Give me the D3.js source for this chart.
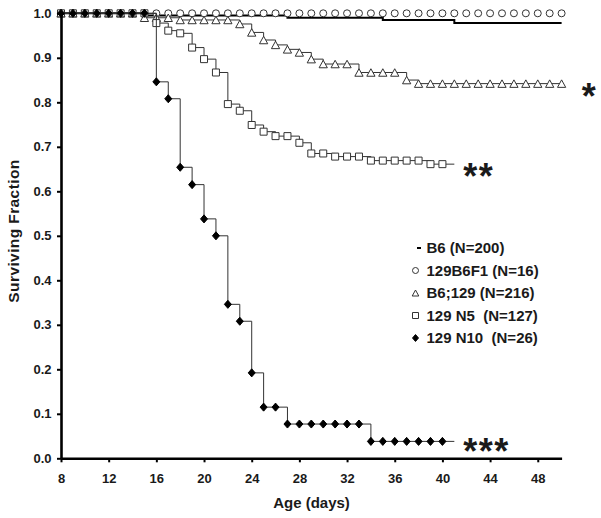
<!DOCTYPE html>
<html>
<head>
<meta charset="utf-8">
<script src="https://cdn.jsdelivr.net/npm/d3@7"></script>
<style>
  html, body { margin: 0; padding: 0; background: #fff; }
  svg { display: block; }
  text { font-family: "Liberation Sans", Arial, sans-serif; font-weight: bold; fill: #1a1a1a; }
</style>
</head>
<body>
<svg id="chart" width="601" height="518"></svg>
<script>
// ---------------- DATA ----------------
const xTicks = [8, 12, 16, 20, 24, 28, 32, 36, 40, 44, 48];
const yTicks = [0.0, 0.1, 0.2, 0.3, 0.4, 0.5, 0.6, 0.7, 0.8, 0.9, 1.0];

// B6 (N=200): step line only (change days and values)
const b6Days   = [8, 15, 27, 35, 41, 50];
const b6Values = [1.0, 0.995, 0.99, 0.985, 0.978, 0.978];

// 129B6F1 (N=16): circles, days 8..50
const f1Days = [8,9,10,11,12,13,14,15,16,17,18,19,20,21,22,23,24,25,26,27,28,29,30,31,32,33,34,35,36,37,38,39,40,41,42,43,44,45,46,47,48,49,50];
const f1Values = [1,1,1,1,1,1,1,1,1,1,1,1,1,1,1,1,1,1,1,1,1,1,1,1,1,1,1,1,1,1,1,1,1,1,1,1,1,1,1,1,1,1,1];

// B6;129 (N=216): triangles, days 8..50
const b6129Days = [8,9,10,11,12,13,14,15,16,17,18,19,20,21,22,23,24,25,26,27,28,29,30,31,32,33,34,35,36,37,38,39,40,41,42,43,44,45,46,47,48,49,50];
const b6129Values = [1,1,1,1,1,1,1,0.99,0.99,0.99,0.985,0.985,0.985,0.985,0.985,0.976,0.957,0.94,0.929,0.919,0.912,0.897,0.886,0.886,0.886,0.867,0.867,0.867,0.867,0.85,0.842,0.842,0.842,0.842,0.842,0.842,0.842,0.842,0.842,0.842,0.842,0.842,0.842];

// 129 N5 (N=127): squares, days 8..40
const n5Days = [8,9,10,11,12,13,14,15,16,17,18,19,20,21,22,23,24,25,26,27,28,29,30,31,32,33,34,35,36,37,38,39,40];
const n5Values = [1,1,1,1,1,1,1,1,0.978,0.961,0.955,0.923,0.897,0.867,0.796,0.781,0.749,0.734,0.724,0.724,0.709,0.685,0.685,0.678,0.678,0.678,0.669,0.669,0.669,0.669,0.669,0.661,0.661];

// 129 N10 (N=26): filled diamonds, days 8..40
const n10Days = [8,9,10,11,12,13,14,15,16,17,18,19,20,21,22,23,24,25,26,27,28,29,30,31,32,33,34,35,36,37,38,39,40];
const n10Values = [1,1,1,1,1,1,1,1,0.846,0.808,0.654,0.615,0.538,0.5,0.346,0.308,0.192,0.115,0.115,0.077,0.077,0.077,0.077,0.077,0.077,0.077,0.038,0.038,0.038,0.038,0.038,0.038,0.038];

const lineEndDay = { b6129: 50, n5: 41, n10: 41 };

const legendLabels = ["B6 (N=200)", "129B6F1 (N=16)", "B6;129 (N=216)", "129 N5\u00a0\u00a0(N=127)", "129 N10\u00a0\u00a0(N=26)"];
const legendKinds  = ["dash", "circle", "triangle", "square", "diamond"];

const starLabels = ["*", "**", "***"];
const starDays   = [51.7, 41.75, 41.75];
const starValues = [0.832, 0.652, 0.034];

// ---------------- CHART ----------------
const svg = d3.select("#chart");
const x = d3.scaleLinear().domain([8, 50]).range([61, 561.6]);
const y = d3.scaleLinear().domain([0, 1]).range([458.3, 13.3]);

function pts(days, vals) { return days.map((d, i) => ({ d, v: vals[i] })); }
function withEnd(days, vals, end) {
  const p = pts(days, vals);
  if (end > days[days.length - 1]) p.push({ d: end, v: vals[vals.length - 1] });
  return p;
}
const stepLine = d3.line().x(p => x(p.d)).y(p => y(p.v)).curve(d3.curveStepAfter);

// marker paths (centered on bounding box)
function markerPath(kind, s) {
  const h = s / 2;
  switch (kind) {
    case "circle": return `M${h},0A${h},${h} 0 1,1 ${-h},0A${h},${h} 0 1,1 ${h},0Z`;
    case "triangle": return `M0,${-h}L${h * 1.1},${h}L${-h * 1.1},${h}Z`;
    case "square": return `M${-h},${-h}H${h}V${h}H${-h}Z`;
    case "diamond": return `M0,${-h * 1.15}L${h},0L0,${h * 1.15}L${-h},0Z`;
  }
}
const markerStyle = {
  circle:   { size: 7,   fill: "#fff", stroke: "#333" },
  triangle: { size: 7.5, fill: "#fff", stroke: "#333" },
  square:   { size: 7,   fill: "#fff", stroke: "#333" },
  diamond:  { size: 7,   fill: "#000", stroke: "#000" }
};

function drawMarkers(g, data, kind) {
  const st = markerStyle[kind];
  g.selectAll(null).data(data).join("path")
    .attr("transform", p => `translate(${x(p.d)},${y(p.v)})`)
    .attr("d", markerPath(kind, st.size))
    .attr("fill", st.fill).attr("stroke", st.stroke).attr("stroke-width", 1);
}

const plot = svg.append("g");

// B6 line
plot.append("path").datum(pts(b6Days, b6Values))
  .attr("d", stepLine).attr("fill", "none").attr("stroke", "#000").attr("stroke-width", 2);

// circles
drawMarkers(plot.append("g"), pts(f1Days, f1Values), "circle");

// triangles
plot.append("path").datum(withEnd(b6129Days, b6129Values, lineEndDay.b6129))
  .attr("d", stepLine).attr("fill", "none").attr("stroke", "#333").attr("stroke-width", 1);
drawMarkers(plot.append("g"), pts(b6129Days, b6129Values), "triangle");

// squares
plot.append("path").datum(withEnd(n5Days, n5Values, lineEndDay.n5))
  .attr("d", stepLine).attr("fill", "none").attr("stroke", "#333").attr("stroke-width", 1);
drawMarkers(plot.append("g"), pts(n5Days, n5Values), "square");

// diamonds
plot.append("path").datum(withEnd(n10Days, n10Values, lineEndDay.n10))
  .attr("d", stepLine).attr("fill", "none").attr("stroke", "#333").attr("stroke-width", 1);
drawMarkers(plot.append("g"), pts(n10Days, n10Values), "diamond");

// ---------------- AXES ----------------
const xAxis = svg.append("g").attr("transform", `translate(0,${y(0)})`)
  .call(d3.axisBottom(x).tickValues(xTicks).tickFormat(d3.format("d")).tickSize(4).tickSizeOuter(0).tickPadding(11));
const yAxis = svg.append("g").attr("transform", `translate(${x(8)},0)`)
  .call(d3.axisLeft(y).tickValues(yTicks).tickFormat(d3.format(".1f")).tickSize(4).tickSizeOuter(0).tickPadding(5.5));
[xAxis, yAxis].forEach(a => {
  a.select(".domain").attr("stroke", "#000").attr("stroke-width", 2.6);
  a.selectAll(".tick line").attr("stroke", "#000").attr("stroke-width", 2);
  a.selectAll(".tick text").attr("font-size", 13).attr("font-family", "Liberation Sans, Arial, sans-serif").attr("font-weight", "bold").attr("fill", "#1a1a1a");
});

svg.append("text").attr("x", 311.5).attr("y", 508).attr("text-anchor", "middle")
  .attr("font-size", 15).text("Age (days)");
svg.append("text").attr("transform", "translate(19,231) rotate(-90)").attr("text-anchor", "middle")
  .attr("font-size", 15.5).attr("letter-spacing", 0.4).text("Surviving Fraction");

// ---------------- LEGEND ----------------
const legend = svg.append("g");
legendLabels.forEach((lab, i) => {
  const cy = 248 + i * 22.5;
  const kind = legendKinds[i];
  if (kind === "dash") {
    legend.append("line").attr("x1", 417).attr("x2", 421).attr("y1", cy).attr("y2", cy)
      .attr("stroke", "#000").attr("stroke-width", 2);
  } else {
    const st = markerStyle[kind];
    legend.append("path").attr("transform", `translate(415.5,${cy})`)
      .attr("d", markerPath(kind, 6)).attr("fill", st.fill).attr("stroke", st.stroke).attr("stroke-width", 1);
  }
  legend.append("text").attr("x", 426.5).attr("y", cy + 5.4).attr("font-size", 15).text(lab);
});

// ---------------- SIGNIFICANCE STARS ----------------
starLabels.forEach((s, i) => {
  svg.append("text").attr("x", x(starDays[i])).attr("y", y(starValues[i]) + 20.5)
    .attr("font-size", 36).attr("letter-spacing", 1.5).text(s);
});
</script>
</body>
</html>
